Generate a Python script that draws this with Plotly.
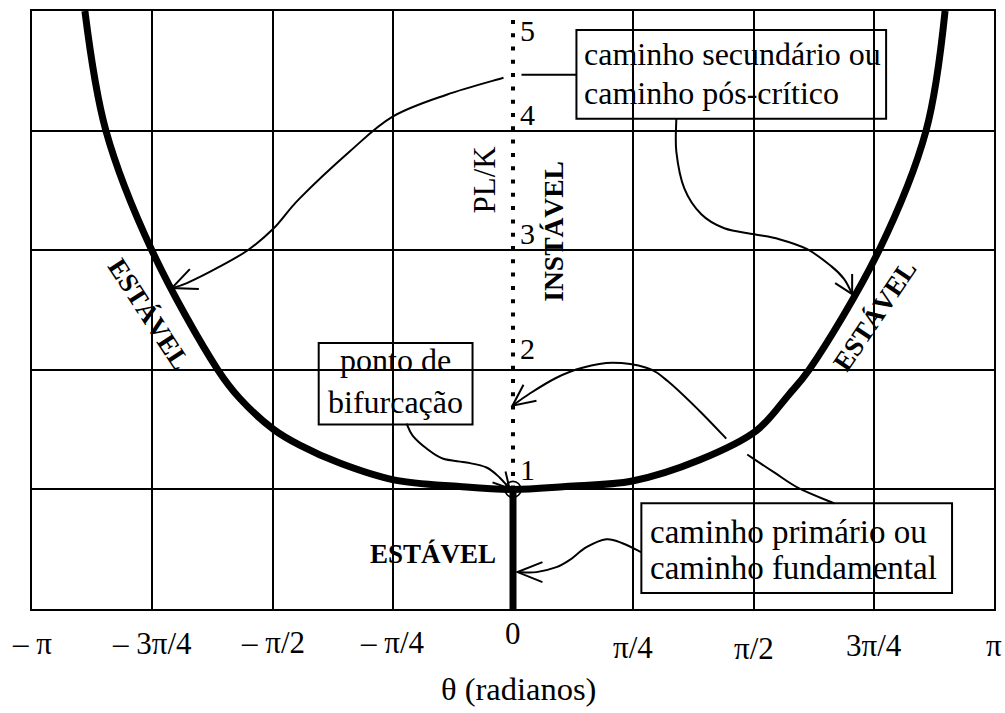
import math
import plotly.graph_objects as go

PI = math.pi

# ---------------- data ----------------
# secondary (post-critical) equilibrium path  PL/K vs theta
theta_secondary = [-2.796, -2.659, -2.359, -1.928, -1.784, -1.562, -1.393, -1.132, -0.780, -0.349, 0.0,
                   0.343, 0.780, 1.217, 1.589, 1.800, 1.934, 2.391, 2.698, 2.822]
load_secondary = [5.0, 4.0, 3.0, 2.0, 1.76, 1.50, 1.37, 1.22, 1.08, 1.025, 1.0,
                  1.025, 1.07, 1.245, 1.49, 1.79, 2.0, 3.0, 4.0, 5.0]

# primary (fundamental) path: stable part (solid) and unstable part (dotted)
theta_primary_stable = [0.0, 0.0]
load_primary_stable = [0.0, 1.0]
theta_primary_unstable = [0.0, 0.0]
load_primary_unstable = [1.0, 5.0]

# bifurcation point
bifurcation_theta = [0.0]
bifurcation_load = [1.0]

# axis ticks
x_tick_vals = [-PI, -3 * PI / 4, -PI / 2, -PI / 4, 0.0, PI / 4, PI / 2, 3 * PI / 4, PI]
x_tick_text = ["– π", "– 3π/4", "– π/2", "– π/4", "0", "π/4", "π/2", "3π/4", "π"]
x_grid_vals = [-3 * PI / 4, -PI / 2, -PI / 4, PI / 4, PI / 2, 3 * PI / 4]
y_tick_vals = [1, 2, 3, 4, 5]
y_tick_text = ["1", "2", "3", "4", "5"]

# ---------------- layout / style ----------------
FIG_W, FIG_H = 1005, 713
ML, MR, MT, MB = 32, 10, 9, 104
PW = FIG_W - ML - MR
PH = FIG_H - MT - MB
BOTTOM = FIG_H - MB

FONT = "Liberation Serif"
x_label_drop = [34, 34, 33, 33, 24, 38, 39, 36, 36]   # px below the axis (hand placed labels)
y_label_lift = [20, 21, 17, 16, -19]                   # px above the value


def to_paper(px, py):
    """position helper: picture pixel -> paper coordinates (for callout art)"""
    return (px - ML) / PW, (BOTTOM - py) / PH


def smooth_path(pts):
    n = len(pts)
    x0, y0 = to_paper(*pts[0])
    d = "M {:.5f},{:.5f}".format(x0, y0)
    for i in range(n - 1):
        p0 = pts[i - 1] if i > 0 else pts[i]
        p1 = pts[i]
        p2 = pts[i + 1]
        p3 = pts[i + 2] if i + 2 < n else pts[i + 1]
        c1 = (p1[0] + (p2[0] - p0[0]) / 6, p1[1] + (p2[1] - p0[1]) / 6)
        c2 = (p2[0] - (p3[0] - p1[0]) / 6, p2[1] - (p3[1] - p1[1]) / 6)
        a = to_paper(*c1)
        b = to_paper(*c2)
        c = to_paper(*p2)
        d += " C {:.5f},{:.5f} {:.5f},{:.5f} {:.5f},{:.5f}".format(a[0], a[1], b[0], b[1], c[0], c[1])
    return d


def poly_path(pts):
    parts = []
    for i, p in enumerate(pts):
        x, y = to_paper(*p)
        parts.append(("M" if i == 0 else "L") + " {:.5f},{:.5f}".format(x, y))
    return " ".join(parts)


fig = go.Figure()

# secondary path
fig.add_trace(go.Scatter(x=theta_secondary, y=load_secondary, mode="lines",
                         line=dict(color="black", width=7, shape="spline", smoothing=1.0),
                         hoverinfo="skip"))
# primary path, unstable part
fig.add_trace(go.Scatter(x=theta_primary_unstable, y=load_primary_unstable, mode="lines",
                         line=dict(color="black", width=4, dash="4px,9.3px"),
                         hoverinfo="skip"))
# primary path, stable part
fig.add_trace(go.Scatter(x=theta_primary_stable, y=load_primary_stable, mode="lines",
                         line=dict(color="black", width=7),
                         hoverinfo="skip"))
# bifurcation point
fig.add_trace(go.Scatter(x=bifurcation_theta, y=bifurcation_load, mode="markers",
                         marker=dict(symbol="circle-open", size=16, color="black",
                                     line=dict(width=1.6, color="black")),
                         hoverinfo="skip", cliponaxis=False))

annotations = []

# x tick labels
for v, t, drop in zip(x_tick_vals, x_tick_text, x_label_drop):
    annotations.append(dict(x=v, xref="x", y=0, yref="paper", text=t, showarrow=False,
                            xanchor="center", yanchor="middle", yshift=-drop,
                            font=dict(family=FONT, size=31, color="black")))
# y tick labels (next to the theta = 0 line)
for v, t, lift in zip(y_tick_vals, y_tick_text, y_label_lift):
    annotations.append(dict(x=0, xref="x", y=v, yref="y", text=t, showarrow=False,
                            xanchor="left", yanchor="middle", xshift=5, yshift=lift,
                            font=dict(family=FONT, size=30, color="black")))


def text_at(px, py, text, size=32, bold=False, angle=0, xanchor="center"):
    x, y = to_paper(px, py)
    annotations.append(dict(x=x, y=y, xref="paper", yref="paper", text=text, showarrow=False,
                            xanchor=xanchor, yanchor="middle", textangle=angle,
                            font=dict(family=FONT, size=size, color="black",
                                      weight="bold" if bold else "normal")))


text_at(519, 689, "θ (radianos)", size=32.5)
text_at(484.5, 178, "PL/K", size=31, angle=-90)
text_at(554, 230, "INSTÁVEL", size=27.5, bold=True, angle=-90)
text_at(149, 313, "ESTÁVEL", size=27, bold=True, angle=57)
text_at(875.5, 315, "ESTÁVEL", size=27, bold=True, angle=-56)
text_at(433, 554, "ESTÁVEL", size=27, bold=True)

# box texts
text_at(583, 52.5, "caminho secundário ou", size=32, xanchor="left")
text_at(583, 91.5, "caminho pós-crítico", size=32, xanchor="left")
text_at(396, 359.5, "ponto de", size=32)
text_at(396, 401.5, "bifurcação", size=32)
text_at(649, 531.5, "caminho primário ou", size=33, xanchor="left")
text_at(649, 567.5, "caminho fundamental", size=33, xanchor="left")

shapes = []
thin = dict(color="black", width=2)


def box(x0, y0, x1, y1):
    a = to_paper(x0, y1)
    b = to_paper(x1, y0)
    shapes.append(dict(type="rect", xref="paper", yref="paper", x0=a[0], y0=a[1], x1=b[0], y1=b[1],
                       line=thin, fillcolor="rgba(0,0,0,0)"))


box(577, 28, 887, 117)
box(319, 342, 473, 424)
box(642, 503, 953, 593)

curves = [
    # secundario -> left stable branch
    [(577, 73), (522, 73)],
    [(504, 76), (447, 93), (393, 115), (350, 150), (300, 197), (274, 227), (248, 249),
     (217, 267), (187, 282), (172, 287)],
    # secundario -> right stable branch
    [(677, 117), (677, 150), (685, 187), (702, 213), (725, 227), (755, 233), (780, 238),
     (808, 248), (832, 265), (845, 278), (853, 293)],
    # bifurcacao -> point
    [(407, 423), (413, 435), (427, 448), (443, 458), (467, 462), (487, 467), (500, 477), (510, 488)],
    # primario -> stable primary path
    [(642, 552), (623, 543), (607, 539), (587, 547), (570, 560), (557, 567), (537, 572), (518, 572)],
    # primario -> unstable primary path
    [(835, 503), (800, 488), (775, 472), (748, 454)],
    [(727, 438), (700, 410), (668, 380), (647, 367), (613, 362), (583, 367), (557, 377),
     (530, 393), (513, 405)],
]
for c in curves:
    shapes.append(dict(type="path", xref="paper", yref="paper", path=smooth_path(c), line=thin))

heads = [
    [(190, 268), (172, 287), (199, 288)],
    [(836, 282), (853, 293), (853, 273)],
    [(506, 471), (510, 488), (493, 482)],
    [(543, 562), (518, 572), (543, 582)],
    [(537, 400), (513, 405), (524, 384)],
]
for h in heads:
    shapes.append(dict(type="path", xref="paper", yref="paper", path=poly_path(h), line=thin))

axis_common = dict(showline=True, mirror=True, linecolor="black", linewidth=2,
                   showgrid=True, gridcolor="black", gridwidth=2, zeroline=False,
                   showticklabels=False, ticks="")

fig.update_layout(
    width=FIG_W, height=FIG_H,
    margin=dict(l=ML, r=MR, t=MT, b=MB, pad=0),
    paper_bgcolor="white", plot_bgcolor="white",
    showlegend=False,
    xaxis=dict(range=[-PI, PI], tickmode="array", tickvals=x_grid_vals, **axis_common),
    yaxis=dict(range=[0, 5], tickmode="array", tickvals=y_tick_vals[:-1], **axis_common),
    annotations=annotations,
    shapes=shapes,
)

fig.write_html("out.html", config={"displayModeBar": False},
               post_script="document.body.style.margin='0';document.body.style.overflow='hidden';")
